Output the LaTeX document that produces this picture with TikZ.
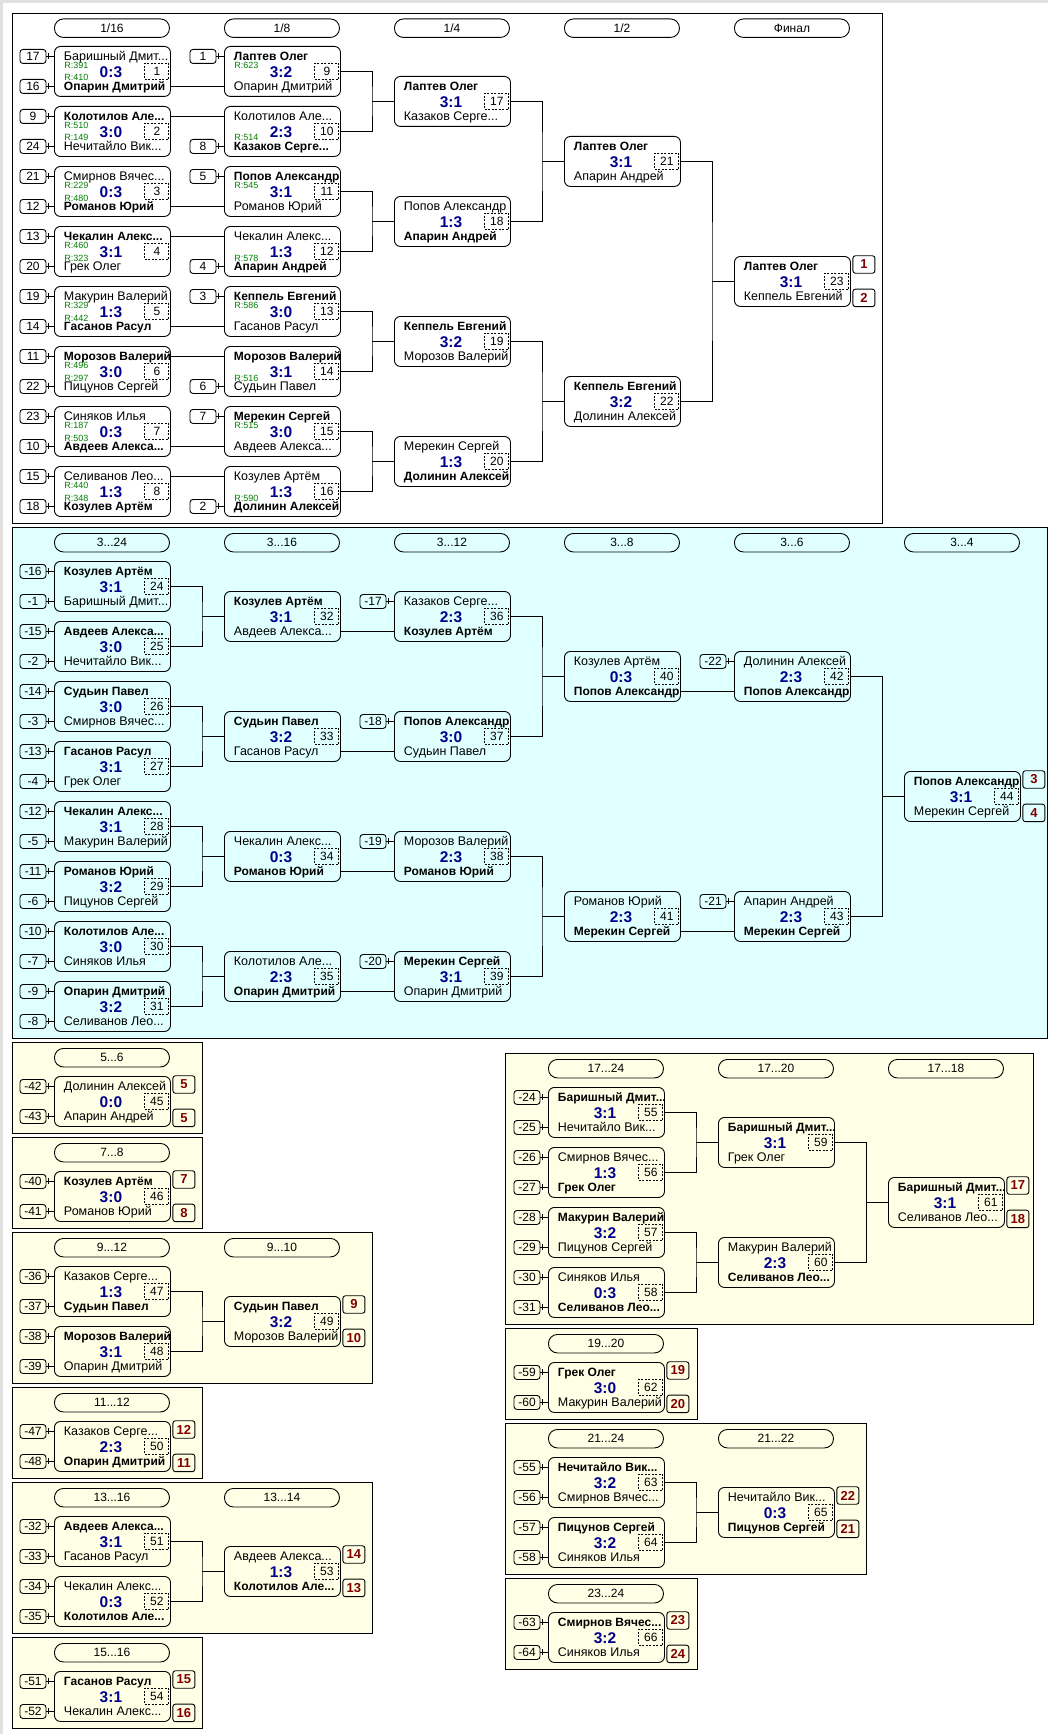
\documentclass[tikz,border=0pt]{standalone}
\usepackage{fontspec}
\setmainfont{Liberation Sans}
\usetikzlibrary{calc}
\definecolor{scoreblue}{RGB}{0,0,140}
\definecolor{rgreen}{RGB}{0,128,0}
\definecolor{placered}{RGB}{128,0,0}
\definecolor{cyanbg}{RGB}{224,255,255}
\definecolor{yellowbg}{RGB}{255,255,230}
\definecolor{edgegray}{RGB}{225,225,225}
\tikzset{game/.style={draw,rounded corners=6pt,minimum width=116pt,minimum height=50pt,inner sep=0pt,anchor=north west},
	pname/.style={anchor=base west,inner sep=0pt,font=\fontsize{12.5}{14}\selectfont},
	score/.style={anchor=base,inner sep=0pt,text=scoreblue,font=\fontsize{15.5}{18}\selectfont\bfseries},
	gnum/.style={draw,dash pattern=on 2pt off 1.5pt,minimum width=24pt,minimum height=16pt,inner sep=0pt,font=\fontsize{12}{14}\selectfont},
	rval/.style={anchor=base west,inner sep=0pt,text=rgreen,font=\fontsize{9}{10}\selectfont},
	seed/.style={draw,rounded corners=3pt,minimum width=26pt,minimum height=14pt,inner sep=0pt,font=\fontsize{12}{14}\selectfont},
	place/.style={draw,rounded corners=2.5pt,minimum width=22pt,minimum height=17.5pt,inner sep=0pt,text=placered,font=\fontsize{13}{15}\selectfont\bfseries},
	rhead/.style={draw,rounded corners=9pt,minimum width=115pt,minimum height=18.5pt,inner sep=0pt,anchor=north west,font=\fontsize{12}{14}\selectfont},
	panel/.style={draw}}
\newcommand{\W}[1]{{\fontsize{12}{14}\selectfont\bfseries #1}}
% one match: id, x, y (top left), upper player, lower player, score
\newcommand{\game}[6]{%
  \node[game] (m#1) at (#2,#3) {};
  \coordinate (m#1-a) at ($(m#1.west)+(0,-15)$);
  \coordinate (m#1-b) at ($(m#1.west)+(0,15)$);
  \node[pname] (m#1-na) at ($(m#1.north west)+(9.5,14.5)$) {#4};
  \node[pname] (m#1-nb) at ($(m#1.north west)+(9.5,44.5)$) {#5};
  \node[score] (m#1-sc) at ($(m#1.north)+(-1.5,31.5)$) {#6};
  \node[gnum] (m#1-no) at ($(m#1.east)+(-14,0)$) {#1};}

\begin{document}
\begin{tikzpicture}[x=1pt,y=-1pt,line width=0.9pt]
  \useasboundingbox (0,0) rectangle (1048,1734);
  \fill[white] (0,0) rectangle (1048,1734);
  \fill[edgegray] (0,0) rectangle (1048,3);
  \fill[edgegray] (0,0) rectangle (3,1734);
  % panels
  \draw[panel,fill=white] (12,13) rectangle (882,523);
  \draw[panel,fill=cyanbg] (12,527) rectangle (1047.5,1038);
  \draw[panel,fill=yellowbg] (12,1042) rectangle (202,1133);
  \draw[panel,fill=yellowbg] (12,1137) rectangle (202,1228);
  \draw[panel,fill=yellowbg] (12,1232) rectangle (372,1383);
  \draw[panel,fill=yellowbg] (12,1387) rectangle (202,1478);
  \draw[panel,fill=yellowbg] (12,1482) rectangle (372,1633);
  \draw[panel,fill=yellowbg] (12,1637) rectangle (202,1728);
  \draw[panel,fill=yellowbg] (505,1053) rectangle (1033,1324);
  \draw[panel,fill=yellowbg] (505,1328) rectangle (697,1419);
  \draw[panel,fill=yellowbg] (505,1423) rectangle (866,1574);
  \draw[panel,fill=yellowbg] (505,1578) rectangle (697,1669);

  % round headers
  \node[rhead] (h1) at (54,18.5) {1/16};
  \node[rhead] (h2) at (224,18.5) {1/8};
  \node[rhead] (h3) at (394,18.5) {1/4};
  \node[rhead] (h4) at (564,18.5) {1/2};
  \node[rhead] (h5) at (734,18.5) {Финал};
  \node[rhead] (h6) at (54,533) {3...24};
  \node[rhead] (h7) at (224,533) {3...16};
  \node[rhead] (h8) at (394,533) {3...12};
  \node[rhead] (h9) at (564,533) {3...8};
  \node[rhead] (h10) at (734,533) {3...6};
  \node[rhead] (h11) at (904,533) {3...4};
  \node[rhead] (h12) at (54,1048) {5...6};
  \node[rhead] (h13) at (54,1143) {7...8};
  \node[rhead] (h14) at (54,1238) {9...12};
  \node[rhead] (h15) at (224,1238) {9...10};
  \node[rhead] (h16) at (54,1393) {11...12};
  \node[rhead] (h17) at (54,1488) {13...16};
  \node[rhead] (h18) at (224,1488) {13...14};
  \node[rhead] (h19) at (54,1643) {15...16};
  \node[rhead] (h20) at (548,1059) {17...24};
  \node[rhead] (h21) at (718,1059) {17...20};
  \node[rhead] (h22) at (888,1059) {17...18};
  \node[rhead] (h23) at (548,1334) {19...20};
  \node[rhead] (h24) at (548,1429) {21...24};
  \node[rhead] (h25) at (718,1429) {21...22};
  \node[rhead] (h26) at (548,1584) {23...24};

  % main draw
  \game{1}{54}{46}{Баришный Дмит...}{\W{Опарин Дмитрий}}{0:3}
  \game{2}{54}{106}{\W{Колотилов Але...}}{Нечитайло Вик...}{3:0}
  \game{3}{54}{166}{Смирнов Вячес...}{\W{Романов Юрий}}{0:3}
  \game{4}{54}{226}{\W{Чекалин Алекс...}}{Грек Олег}{3:1}
  \game{5}{54}{286}{Макурин Валерий}{\W{Гасанов Расул}}{1:3}
  \game{6}{54}{346}{\W{Морозов Валерий}}{Пицунов Сергей}{3:0}
  \game{7}{54}{406}{Синяков Илья}{\W{Авдеев Алекса...}}{0:3}
  \game{8}{54}{466}{Селиванов Лео...}{\W{Козулев Артём}}{1:3}
  \game{9}{224}{46}{\W{Лаптев Олег}}{Опарин Дмитрий}{3:2}
  \game{10}{224}{106}{Колотилов Але...}{\W{Казаков Серге...}}{2:3}
  \game{11}{224}{166}{\W{Попов Александр}}{Романов Юрий}{3:1}
  \game{12}{224}{226}{Чекалин Алекс...}{\W{Апарин Андрей}}{1:3}
  \game{13}{224}{286}{\W{Кеппель Евгений}}{Гасанов Расул}{3:0}
  \game{14}{224}{346}{\W{Морозов Валерий}}{Судьин Павел}{3:1}
  \game{15}{224}{406}{\W{Мерекин Сергей}}{Авдеев Алекса...}{3:0}
  \game{16}{224}{466}{Козулев Артём}{\W{Долинин Алексей}}{1:3}
  \game{17}{394}{76}{\W{Лаптев Олег}}{Казаков Серге...}{3:1}
  \game{18}{394}{196}{Попов Александр}{\W{Апарин Андрей}}{1:3}
  \game{19}{394}{316}{\W{Кеппель Евгений}}{Морозов Валерий}{3:2}
  \game{20}{394}{436}{Мерекин Сергей}{\W{Долинин Алексей}}{1:3}
  \game{21}{564}{136}{\W{Лаптев Олег}}{Апарин Андрей}{3:1}
  \game{22}{564}{376}{\W{Кеппель Евгений}}{Долинин Алексей}{3:2}
  \game{23}{734}{256}{\W{Лаптев Олег}}{Кеппель Евгений}{3:1}

  % places 3..24
  \game{24}{54}{561}{\W{Козулев Артём}}{Баришный Дмит...}{3:1}
  \game{25}{54}{621}{\W{Авдеев Алекса...}}{Нечитайло Вик...}{3:0}
  \game{26}{54}{681}{\W{Судьин Павел}}{Смирнов Вячес...}{3:0}
  \game{27}{54}{741}{\W{Гасанов Расул}}{Грек Олег}{3:1}
  \game{28}{54}{801}{\W{Чекалин Алекс...}}{Макурин Валерий}{3:1}
  \game{29}{54}{861}{\W{Романов Юрий}}{Пицунов Сергей}{3:2}
  \game{30}{54}{921}{\W{Колотилов Але...}}{Синяков Илья}{3:0}
  \game{31}{54}{981}{\W{Опарин Дмитрий}}{Селиванов Лео...}{3:2}
  \game{32}{224}{591}{\W{Козулев Артём}}{Авдеев Алекса...}{3:1}
  \game{33}{224}{711}{\W{Судьин Павел}}{Гасанов Расул}{3:2}
  \game{34}{224}{831}{Чекалин Алекс...}{\W{Романов Юрий}}{0:3}
  \game{35}{224}{951}{Колотилов Але...}{\W{Опарин Дмитрий}}{2:3}
  \game{36}{394}{591}{Казаков Серге...}{\W{Козулев Артём}}{2:3}
  \game{37}{394}{711}{\W{Попов Александр}}{Судьин Павел}{3:0}
  \game{38}{394}{831}{Морозов Валерий}{\W{Романов Юрий}}{2:3}
  \game{39}{394}{951}{\W{Мерекин Сергей}}{Опарин Дмитрий}{3:1}
  \game{40}{564}{651}{Козулев Артём}{\W{Попов Александр}}{0:3}
  \game{41}{564}{891}{Романов Юрий}{\W{Мерекин Сергей}}{2:3}
  \game{42}{734}{651}{Долинин Алексей}{\W{Попов Александр}}{2:3}
  \game{43}{734}{891}{Апарин Андрей}{\W{Мерекин Сергей}}{2:3}
  \game{44}{904}{771}{\W{Попов Александр}}{Мерекин Сергей}{3:1}

  % lower places
  \game{45}{54}{1076}{Долинин Алексей}{Апарин Андрей}{0:0}
  \game{46}{54}{1171}{\W{Козулев Артём}}{Романов Юрий}{3:0}
  \game{47}{54}{1266}{Казаков Серге...}{\W{Судьин Павел}}{1:3}
  \game{48}{54}{1326}{\W{Морозов Валерий}}{Опарин Дмитрий}{3:1}
  \game{49}{224}{1296}{\W{Судьин Павел}}{Морозов Валерий}{3:2}
  \game{50}{54}{1421}{Казаков Серге...}{\W{Опарин Дмитрий}}{2:3}
  \game{51}{54}{1516}{\W{Авдеев Алекса...}}{Гасанов Расул}{3:1}
  \game{52}{54}{1576}{Чекалин Алекс...}{\W{Колотилов Але...}}{0:3}
  \game{53}{224}{1546}{Авдеев Алекса...}{\W{Колотилов Але...}}{1:3}
  \game{54}{54}{1671}{\W{Гасанов Расул}}{Чекалин Алекс...}{3:1}
  \game{55}{548}{1087}{\W{Баришный Дмит...}}{Нечитайло Вик...}{3:1}
  \game{56}{548}{1147}{Смирнов Вячес...}{\W{Грек Олег}}{1:3}
  \game{57}{548}{1207}{\W{Макурин Валерий}}{Пицунов Сергей}{3:2}
  \game{58}{548}{1267}{Синяков Илья}{\W{Селиванов Лео...}}{0:3}
  \game{59}{718}{1117}{\W{Баришный Дмит...}}{Грек Олег}{3:1}
  \game{60}{718}{1237}{Макурин Валерий}{\W{Селиванов Лео...}}{2:3}
  \game{61}{888}{1177}{\W{Баришный Дмит...}}{Селиванов Лео...}{3:1}
  \game{62}{548}{1362}{\W{Грек Олег}}{Макурин Валерий}{3:0}
  \game{63}{548}{1457}{\W{Нечитайло Вик...}}{Смирнов Вячес...}{3:2}
  \game{64}{548}{1517}{\W{Пицунов Сергей}}{Синяков Илья}{3:2}
  \game{65}{718}{1487}{Нечитайло Вик...}{\W{Пицунов Сергей}}{0:3}
  \game{66}{548}{1612}{\W{Смирнов Вячес...}}{Синяков Илья}{3:2}

  % ratings
  \foreach \g/\v in {1/391,2/510,3/229,4/460,5/329,6/496,7/187,8/440,9/623,11/545,13/586,15/515}
    \node[rval] (r\g-a) at ($(m\g.north west)+(10,22.5)$) {R:\v};
  \foreach \g/\v in {1/410,2/149,3/480,4/323,5/442,6/297,7/503,8/348,10/514,12/578,14/516,16/590}
    \node[rval] (r\g-b) at ($(m\g.north west)+(10,35)$) {R:\v};

  % entry numbers
  \foreach \g/\r/\t in {1/a/17,1/b/16,2/a/9,2/b/24,3/a/21,3/b/12,4/a/13,4/b/20,
    5/a/19,5/b/14,6/a/11,6/b/22,7/a/23,7/b/10,8/a/15,8/b/18,
    9/a/1,10/b/8,11/a/5,12/b/4,13/a/3,14/b/6,15/a/7,16/b/2,
    24/a/-16,24/b/-1,25/a/-15,25/b/-2,26/a/-14,26/b/-3,27/a/-13,27/b/-4,
    28/a/-12,28/b/-5,29/a/-11,29/b/-6,30/a/-10,30/b/-7,31/a/-9,31/b/-8,
    36/a/-17,37/a/-18,38/a/-19,39/a/-20,42/a/-22,43/a/-21,
    45/a/-42,45/b/-43,46/a/-40,46/b/-41,47/a/-36,47/b/-37,48/a/-38,48/b/-39,
    50/a/-47,50/b/-48,51/a/-32,51/b/-33,52/a/-34,52/b/-35,54/a/-51,54/b/-52,
    55/a/-24,55/b/-25,56/a/-26,56/b/-27,57/a/-28,57/b/-29,58/a/-30,58/b/-31,
    62/a/-59,62/b/-60,63/a/-55,63/b/-56,64/a/-57,64/b/-58,66/a/-63,66/b/-64}{
    \node[seed] (s\g-\r) at ($(m\g-\r)+(-21,0)$) {\t};
    \draw (s\g-\r) -- (m\g-\r);
    \draw ($(s\g-\r.east)+(2,-3)$) -- ($(s\g-\r.east)+(2,3)$);
  }

  % final places
  \foreach \g/\p/\q in {23/1/2,44/3/4,45/5/5,46/7/8,49/9/10,50/12/11,53/14/13,
    54/15/16,61/17/18,62/19/20,65/22/21,66/23/24}{
    \node[place] (p\g-a) at ($(m\g.north east)+(13,8.5)$) {\p};
    \node[place] (p\g-b) at ($(m\g.south east)+(13,-9)$) {\q};
  }

  % winner goes straight on
  \foreach \a/\c/\r in {1/9/b,2/10/a,3/11/b,4/12/a,5/13/b,6/14/a,7/15/b,8/16/a,
    32/36/b,33/37/b,34/38/b,35/39/b,40/42/b,41/43/b}
    \draw (m\a.east |- m\c-\r) -- (m\c-\r);

  % two winners meet
  \foreach \a/\b/\c in {9/10/17,11/12/18,13/14/19,15/16/20,17/18/21,19/20/22,21/22/23,
    24/25/32,26/27/33,28/29/34,30/31/35,36/37/40,38/39/41,42/43/44,
    47/48/49,51/52/53,55/56/59,57/58/60,59/60/61,63/64/65}{
    \coordinate (j\c) at ($(m\c.west)+(-22,0)$);
    \draw (m\a.east) -| (j\c) |- (m\b.east);
    \draw (j\c) -- (m\c.west);
  }
\end{tikzpicture}
\end{document}
